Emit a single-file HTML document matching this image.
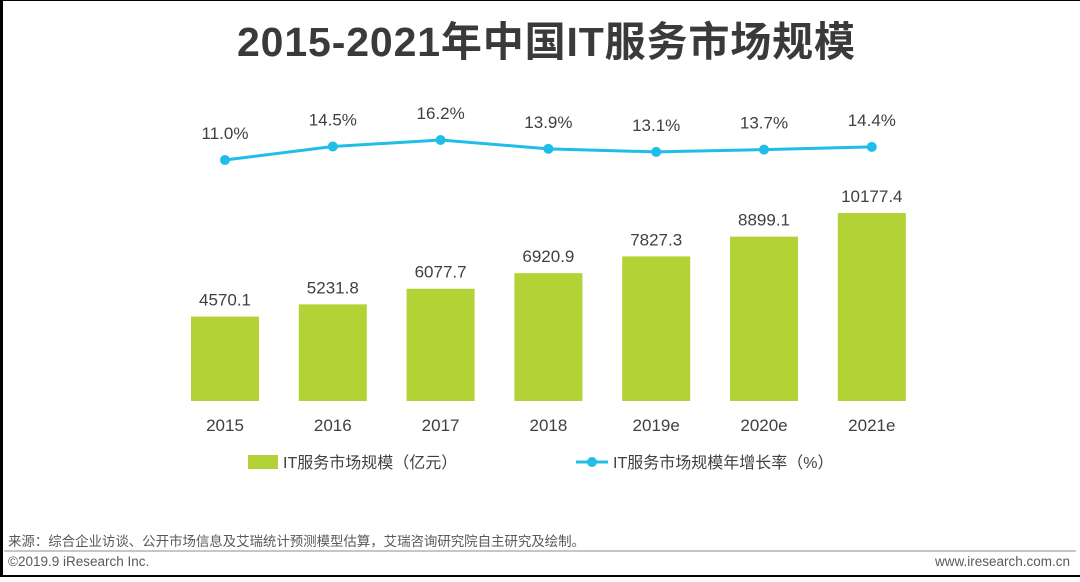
<!DOCTYPE html>
<html><head><meta charset="utf-8"><style>
body{margin:0;width:1080px;height:577px;overflow:hidden;background:#fff;font-family:"Liberation Sans","Noto Sans CJK SC",sans-serif;}
</style></head><body>
<svg width="1080" height="577" xmlns="http://www.w3.org/2000/svg">
<rect x="0" y="0" width="1080" height="577" fill="#fff"/>
<rect x="0" y="0" width="3" height="577" fill="#000"/>
<rect x="0" y="0" width="1080" height="1" fill="#000"/>
<rect x="0" y="575" width="1080" height="2" fill="#000"/>
<text x="546" y="56" text-anchor="middle" font-size="41" font-weight="bold" fill="#3a3a3a" textLength="618" font-family="Liberation Sans,'Noto Sans CJK SC',sans-serif">2015-2021年中国IT服务市场规模</text>
<g id="bars"></g><g id="line"></g><g id="xlabels"></g>
<g>
<rect x="248" y="455" width="30" height="14" fill="#b2d235"/>
<text x="283" y="468" font-size="16" fill="#404040">IT服务市场规模（亿元）</text>
<line x1="576" y1="462" x2="608" y2="462" stroke="#20bde8" stroke-width="3"/>
<circle cx="592" cy="462" r="5" fill="#20bde8"/>
<text x="613" y="468" font-size="16" fill="#404040">IT服务市场规模年增长率（%）</text>
</g>
<text x="8" y="546" font-size="13.5" fill="#595959" textLength="577">来源：综合企业访谈、公开市场信息及艾瑞统计预测模型估算，艾瑞咨询研究院自主研究及绘制。</text>
<line x1="4" y1="551" x2="1076" y2="551" stroke="#8c8c8c" stroke-width="1"/>
<text x="8" y="566" font-size="13.5" fill="#595959">©2019.9 iResearch Inc.</text>
<text x="1070" y="566" text-anchor="end" font-size="13.5" fill="#595959">www.iresearch.com.cn</text>
</svg>
<script>
const categories=["2015","2016","2017","2018","2019e","2020e","2021e"];
const marketSize=[4570.1,5231.8,6077.7,6920.9,7827.3,8899.1,10177.4];
const growthRate=[11.0,14.5,16.2,13.9,13.1,13.7,14.4];
const NS="http://www.w3.org/2000/svg";
function xPos(i){return 225+i*107.8;}
function yBar(v){return 401-v*0.01847;}
function yLine(v){return 160-(v-11)*3.85;}
function mk(t,a,txt){const e=document.createElementNS(NS,t);for(const k in a)e.setAttribute(k,a[k]);if(txt!==undefined)e.textContent=txt;return e;}
const gb=document.getElementById('bars'),gl=document.getElementById('line'),gx=document.getElementById('xlabels');
marketSize.forEach((v,i)=>{
 const r=mk('rect',{x:xPos(i)-34,y:yBar(v),width:68,height:401-yBar(v),fill:'#b2d235'});
 
 
 gb.appendChild(r);
 const t=mk('text',{x:xPos(i),y:yBar(v)-11,'text-anchor':'middle','font-size':'17',fill:'#404040'},v.toFixed(1));
 
 
 gb.appendChild(t);
 const c=mk('text',{x:xPos(i),y:431,'text-anchor':'middle','font-size':'17',fill:'#404040'},categories[i]);
 
 
 gx.appendChild(c);
});
const pts=growthRate.map((v,i)=>xPos(i)+','+yLine(v)).join(' ');
const pl=mk('polyline',{points:pts,fill:'none',stroke:'#20bde8','stroke-width':3});


gl.appendChild(pl);
growthRate.forEach((v,i)=>{
 const c=mk('circle',{cx:xPos(i),cy:yLine(v),r:5,fill:'#20bde8'});
 
 
 gl.appendChild(c);
 const t=mk('text',{x:xPos(i),y:yLine(v)-21,'text-anchor':'middle','font-size':'17',fill:'#404040'},v.toFixed(1)+'%');
 
 
 gl.appendChild(t);
});
</script>
</body></html>
